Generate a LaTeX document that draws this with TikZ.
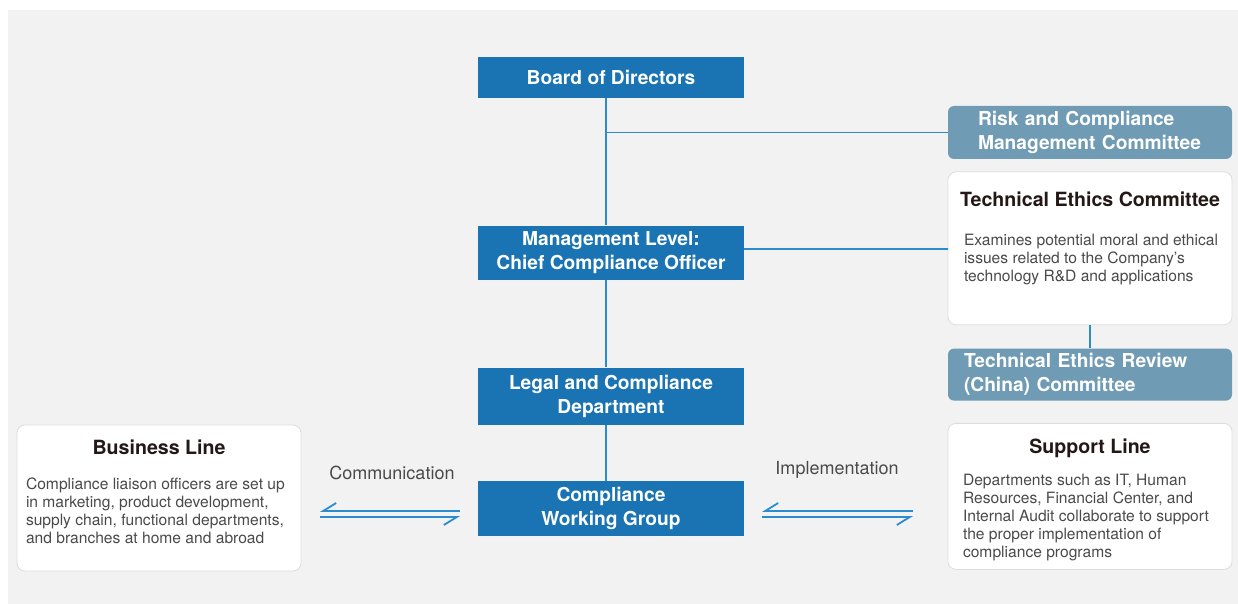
\documentclass[tikz,border=0pt]{standalone}
\usepackage{fontspec}
\setmainfont{TeX Gyre Heros}
\usetikzlibrary{arrows.meta,positioning}

\definecolor{boardblue}{HTML}{1A74B4}
\definecolor{steelbox}{HTML}{6F9BB4}
\definecolor{linkblue}{HTML}{2A8CCF}
\definecolor{bggray}{HTML}{F2F2F2}
\definecolor{edgegray}{HTML}{DDDDDD}
\definecolor{titleink}{HTML}{231815}
\definecolor{bodyink}{HTML}{4A4A4A}

\tikzset{
  mainbox/.style={fill=boardblue, text=white, font=\bfseries\fontsize{9.6}{12}\selectfont,
    minimum width=133pt, align=center, inner sep=0pt},
  sidebox/.style={fill=steelbox, text=white, font=\bfseries\fontsize{9.6}{12}\selectfont,
    rounded corners=3pt, minimum width=142pt, align=left, inner ysep=0pt},
  infobox/.style={fill=white, draw=edgegray, line width=0.4pt, rounded corners=4pt,
    minimum width=142pt, inner sep=0pt},
  infotitle/.style={text=titleink, font=\bfseries\fontsize{9.8}{12}\selectfont, inner sep=0pt},
  infotext/.style={text=bodyink, font=\fontsize{7.8}{9}\selectfont, align=left,
    anchor=north west, inner sep=0pt},
  flowlabel/.style={text=bodyink, font=\fontsize{9}{11}\selectfont, inner sep=0pt},
  link/.style={draw=linkblue, line width=0.9pt},
  harp/.style={link, -{Straight Barb[harpoon,swap,length=6.5pt,width=8pt]}}
}

\begin{document}
\begin{tikzpicture}[x=0.5pt,y=-0.5pt]

  \useasboundingbox (0,0) rectangle (1238,604);
  \fill[bggray] (8,10) rectangle (1238,604);

  % main column
  \node[mainbox, minimum height=20.5pt] (board) at (611,77.5) {Board of Directors};
  \node[mainbox, minimum height=27pt] (mgmt) [below=63.5pt of board] {Management Level:\\Chief Compliance Officer};
  \node[mainbox, minimum height=28.5pt] (legal) [below=43.5pt of mgmt] {Legal and Compliance\\Department};
  \node[mainbox, minimum height=27.5pt] (cwg) [below=28pt of legal] {Compliance\\Working Group};

  % right column
  \node[sidebox, minimum height=26.5pt, text width=112pt, inner xsep=15pt] (risk) at (1090,132.5) {Risk and Compliance\\Management Committee};
  \node[infobox, minimum height=76.5pt] (tec) [below=6pt of risk] {};
  \node[sidebox, minimum height=26pt, text width=126pt, inner xsep=8pt] (review) [below=11.5pt of tec] {Technical Ethics Review\\(China) Committee};
  \node[infobox, minimum height=73pt] (support) [below=11pt of review] {};

  % left box
  \node[infobox, minimum height=73pt] (business) at (159,498) {};

  % box contents
  \node[infotitle] (tectitle) at ([yshift=-14pt]tec.north) {Technical Ethics Committee};
  \node[infotext] (tecdesc) at ([xshift=8pt,yshift=-31pt]tec.north west) {Examines potential moral and ethical\\issues related to the Company's\\technology R\&D and applications};
  \node[infotitle] (supporttitle) at ([yshift=-12.5pt]support.north) {Support Line};
  \node[infotext] (supportdesc) at ([xshift=7.5pt,yshift=-25.5pt]support.north west) {Departments such as IT, Human\\Resources, Financial Center, and\\Internal Audit collaborate to support\\the proper implementation of\\compliance programs};
  \node[infotitle] (businesstitle) at ([yshift=-11.5pt]business.north) {Business Line};
  \node[infotext] (businessdesc) at ([xshift=4.5pt,yshift=-26.5pt]business.north west) {Compliance liaison officers are set up\\in marketing, product development,\\supply chain, functional departments,\\and branches at home and abroad};

  % connectors
  \coordinate (spine) at ([xshift=-2.5pt]board.south);
  \coordinate (mgmtlink) at ([yshift=2pt]mgmt.east);
  \draw[link] (spine) -- ([xshift=-2.5pt]mgmt.north);
  \draw[link] ([xshift=-2.5pt]mgmt.south) -- ([xshift=-2.5pt]legal.north);
  \draw[link] ([xshift=-2.5pt]legal.south) -- ([xshift=-2.5pt]cwg.north);
  \draw[link] (risk.west) -- (risk.west -| spine);
  \draw[link] (mgmtlink) -- (mgmtlink -| tec.west);
  \draw[link] (tec.south) -- (review.north);

  % exchange arrows
  \coordinate (commhi) at (460,511);
  \coordinate (commlo) at (320,517);
  \coordinate (implhi) at (913,511);
  \coordinate (impllo) at (762,517);
  \draw[harp] (commhi) -- (commhi -| commlo);
  \draw[harp] (commlo) -- (commlo -| commhi);
  \draw[harp] (implhi) -- (implhi -| impllo);
  \draw[harp] (impllo) -- (impllo -| implhi);
  \node[flowlabel] (commlabel) at (392,473) {Communication};
  \node[flowlabel] (impllabel) at (837,470) {Implementation};

\end{tikzpicture}
\end{document}
